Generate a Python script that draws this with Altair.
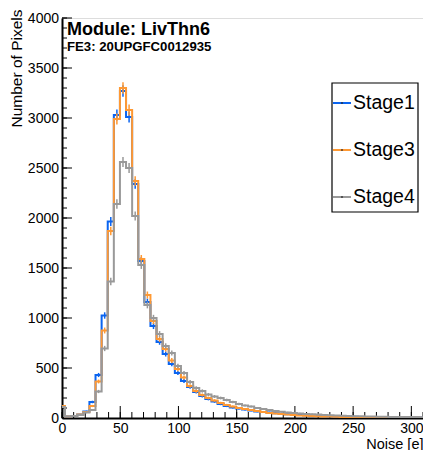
import altair as alt
import pandas as pd
import numpy as np

# ---- data ----
bin_start = -2.65
bin_width = 5.24
series_names = ["Stage1", "Stage3", "Stage4"]
series_colors = ["#0a64f0", "#ff9933", "#999999"]
stage1 = [110, 15, 20, 35, 65, 160, 430, 1025, 1965, 3030,
          3270, 3010, 2340, 1570, 1160, 920, 760, 640, 540, 450,
          370, 310, 260, 220, 190, 165, 140, 120, 105, 95,
          85, 75, 65, 60, 55, 48, 42, 38, 35, 30,
          28, 25, 22, 20, 18, 16, 15, 13, 12, 11,
          10, 9, 9, 8, 7, 7, 6, 6, 5, 5]
stage3 = [120, 15, 20, 35, 60, 120, 365, 875, 1870, 2990,
          3300, 3080, 2370, 1590, 1230, 970, 790, 690, 575, 490,
          405, 320, 270, 230, 200, 175, 150, 130, 115, 100,
          90, 80, 70, 60, 50, 45, 40, 35, 30, 25,
          22, 20, 18, 16, 14, 12, 11, 10, 9, 8,
          8, 7, 6, 6, 5, 5, 4, 4, 4, 3]
stage4 = [110, 15, 20, 30, 55, 80, 265, 695, 1365, 2140,
          2560, 2500, 2020, 1530, 1130, 1000, 840, 720, 650, 520,
          450, 360, 300, 270, 235, 215, 200, 180, 160, 140,
          125, 115, 100, 90, 80, 70, 62, 55, 50, 45,
          40, 38, 34, 30, 28, 25, 22, 20, 18, 17,
          15, 14, 13, 12, 11, 10, 10, 9, 9, 8]
x_major = list(range(0, 301, 50))
x_minor = list(range(0, 311, 10))
y_major = list(range(0, 4001, 500))
y_minor = list(range(0, 4001, 100))
x_domain = [0, 310]
y_domain = [0, 4000]
title1 = "Module: LivThn6"
title2 = "FE3: 20UPGFC0012935"

W, H = 361, 400
FONT = "Liberation Sans"

xs = alt.Scale(domain=x_domain, nice=False, zero=False)
ys = alt.Scale(domain=y_domain, nice=False, zero=False)

XAX = alt.Axis(
    values=x_major, format="d", ticks=False, tickSize=0, grid=False, domain=True,
    domainColor="black", domainWidth=2, labelFont=FONT, labelFontSize=14,
    labelColor="black", labelPadding=3, labelFlush=False, labelOverlap=False,
    title="Noise [e]", titleFont=FONT, titleFontSize=14.5, titleFontWeight="normal",
    titleColor="black", titleX=W, titleY=30, titleAlign="right",
    titleBaseline="alphabetic")
YAX = alt.Axis(
    values=y_major, format="d", ticks=False, tickSize=0, grid=False, domain=True,
    domainColor="black", domainWidth=2, labelFont=FONT, labelFontSize=14,
    labelColor="black", labelPadding=3.5, labelFlush=False, labelOverlap=False,
    title="Number of Pixels", titleFont=FONT, titleFontSize=15.5,
    titleFontWeight="normal", titleColor="black", titleX=-41, titleY=-9,
    titleAngle=270, titleAlign="right", titleBaseline="alphabetic")


def X(field):
    return alt.X(field, scale=xs, axis=XAX)


def Y(field):
    return alt.Y(field, scale=ys, axis=YAX)


layers = []

# ticks (ROOT style, inside the frame)
layers.append(alt.Chart(pd.DataFrame({"v": y_minor})).mark_rule(color="black", strokeWidth=1).encode(
    y=Y("v:Q"), x=alt.value(0), x2=alt.value(5)))
layers.append(alt.Chart(pd.DataFrame({"v": y_major})).mark_rule(color="black", strokeWidth=1).encode(
    y=Y("v:Q"), x=alt.value(0), x2=alt.value(10)))
layers.append(alt.Chart(pd.DataFrame({"v": x_minor})).mark_rule(color="black", strokeWidth=1).encode(
    x=X("v:Q"), y=alt.value(H), y2=alt.value(H - 6)))
layers.append(alt.Chart(pd.DataFrame({"v": x_major})).mark_rule(color="black", strokeWidth=1).encode(
    x=X("v:Q"), y=alt.value(H), y2=alt.value(H - 12)))

for name, color, vals in zip(series_names, series_colors, [stage1, stage3, stage4]):
    n = len(vals)
    edges = [bin_start + k * bin_width for k in range(n + 1)]
    step_df = pd.DataFrame({"x": edges, "y": list(vals) + [vals[-1]]})
    centers = [bin_start + (k + 0.5) * bin_width for k in range(n)]
    err = np.sqrt(np.array(vals, dtype=float))
    err_df = pd.DataFrame({"x": centers, "y": np.array(vals) - err, "hi": np.array(vals) + err})
    layers.append(alt.Chart(step_df).mark_line(
        interpolate="step-after", color=color, strokeWidth=2, clip=True).encode(x=X("x:Q"), y=Y("y:Q")))
    layers.append(alt.Chart(err_df).mark_rule(color=color, strokeWidth=1.5, clip=True).encode(
        x=X("x:Q"), y=Y("y:Q"), y2="hi:Q"))

# texts
layers.append(alt.Chart(pd.DataFrame({"t": [title1]})).mark_text(
    align="left", baseline="alphabetic", font=FONT, fontSize=18, fontWeight="bold",
    color="black").encode(x=alt.value(5), y=alt.value(17), text="t:N"))
layers.append(alt.Chart(pd.DataFrame({"t": [title2]})).mark_text(
    align="left", baseline="alphabetic", font=FONT, fontSize=13.2, fontWeight="bold",
    color="black").encode(x=alt.value(5), y=alt.value(32.7), text="t:N"))

# legend box
layers.append(alt.Chart(pd.DataFrame({"a": [0]})).mark_rect(
    fill="white", stroke="black", strokeWidth=1.2).encode(
    x=alt.value(270), x2=alt.value(356), y=alt.value(65), y2=alt.value(194)))
for i, (name, color) in enumerate(zip(series_names, series_colors)):
    yy = 85 + 47 * i
    d = pd.DataFrame({"label": [name]})
    layers.append(alt.Chart(d).mark_rule(color=color, strokeWidth=2).encode(
        x=alt.value(271), x2=alt.value(289), y=alt.value(yy)))
    layers.append(alt.Chart(d).mark_point(filled=True, color="#222222", size=5).encode(
        x=alt.value(280), y=alt.value(yy)))
    layers.append(alt.Chart(d).mark_text(
        align="left", baseline="middle", font=FONT, fontSize=19.5, color="black").encode(
        x=alt.value(291), y=alt.value(yy), text="label:N"))

chart = alt.layer(*layers).properties(
    width=W, height=H,
    padding={"left": 54, "top": 10, "right": 0, "bottom": 32},
    autosize=alt.AutoSizeParams(type="none"),
).configure_view(stroke="black", strokeWidth=1).configure(background="white")

chart.save("out.html", embed_options={"renderer": "svg", "actions": False})
